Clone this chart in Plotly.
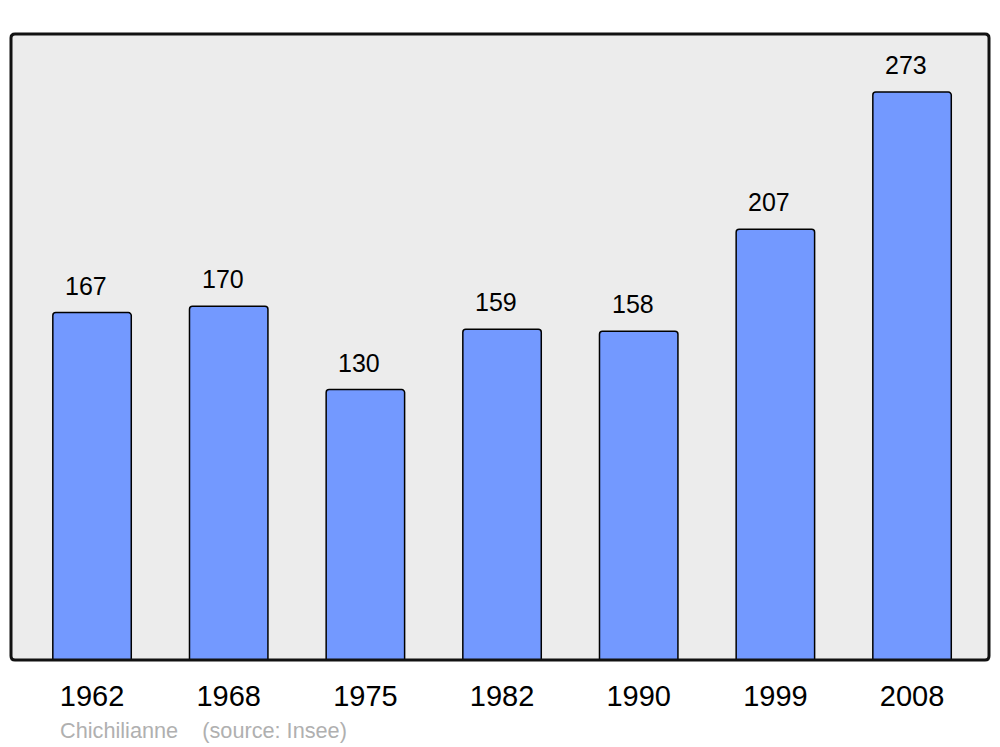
import plotly.graph_objects as go

years = ["1962", "1968", "1975", "1982", "1990", "1999", "2008"]
population = [167, 170, 130, 159, 158, 207, 273]
commune = "Chichilianne"
source = "(source: Insee)"

xpos = list(range(len(years)))

fig = go.Figure()
fig.add_trace(go.Bar(
    x=xpos, y=population, width=0.574,
    marker=dict(color="#7399ff", line=dict(color="#000000", width=1.5), cornerradius=3),
    hoverinfo="skip",
))

for xi, v in zip(xpos, population):
    fig.add_annotation(x=xi, y=v, text=str(v), showarrow=False, yanchor="middle",
                       yshift=27, xshift=-6,
                       font=dict(size=25, color="#000000", family="Liberation Sans"))

fig.add_annotation(xref="paper", yref="paper", x=47 / 978, y=-70 / 626, xanchor="left",
                   yanchor="middle", showarrow=False,
                   text=commune + "\u00a0\u00a0\u00a0\u00a0" + source,
                   font=dict(size=21.7, color="#b0b0b0", family="Liberation Sans"))

# rounded frame around plot area
rx, ry = 4 / 978, 4 / 626
path = (f"M {rx},0 L {1-rx},0 Q 1,0 1,{ry} L 1,{1-ry} Q 1,1 {1-rx},1 "
        f"L {rx},1 Q 0,1 0,{1-ry} L 0,{ry} Q 0,0 {rx},0 Z")
fig.add_shape(type="path", path=path, xref="paper", yref="paper",
              line=dict(color="#111111", width=3), layer="above")

fig.update_layout(
    width=1000, height=747,
    margin=dict(l=11, r=11, t=34, b=87),
    paper_bgcolor="#ffffff", plot_bgcolor="#ececec",
    showlegend=False,
    font=dict(family="Liberation Sans"),
)
fig.update_xaxes(range=[-0.593, 6.563], tickvals=xpos, ticktext=years, showgrid=False,
                 zeroline=False, showline=False, ticks="",
                 tickfont=dict(size=29, color="#000000"), ticklabelstandoff=16)
fig.update_yaxes(range=[0, 300.9], showgrid=False, zeroline=False, showticklabels=False,
                 ticks="", showline=False)

fig.write_html("out.html", config={"displayModeBar": False},
               post_script="document.body.style.margin='0px';document.body.style.overflow='hidden';")
